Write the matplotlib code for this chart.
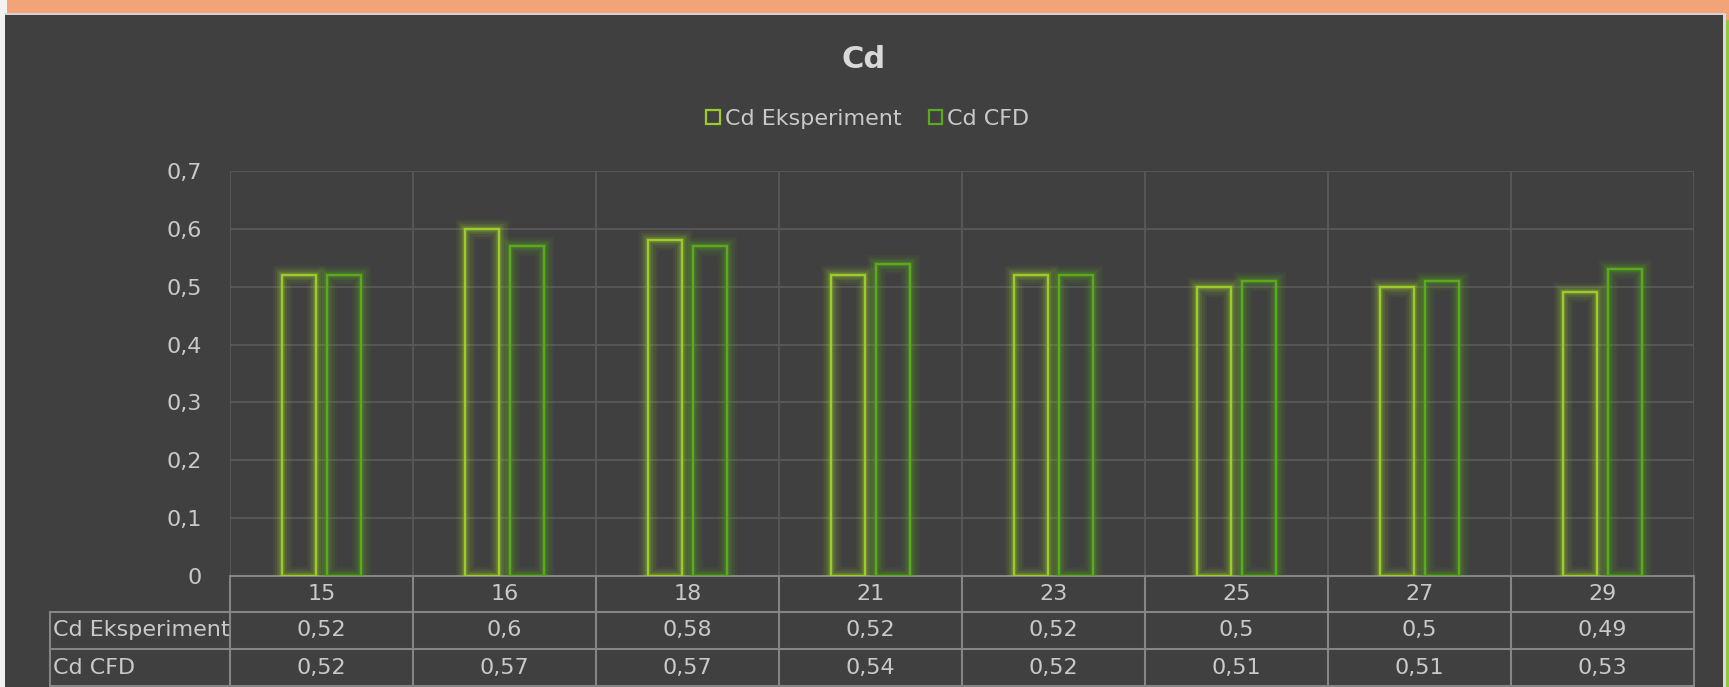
import matplotlib
matplotlib.use("Agg")
import matplotlib.pyplot as plt
import matplotlib.patheffects as pe
from matplotlib.patches import Rectangle, Patch
from matplotlib.lines import Line2D
from matplotlib.ticker import FuncFormatter, MultipleLocator
import numpy as np

# data
kategori = ["15", "16", "18", "21", "23", "25", "27", "29"]
cd_eksperiment = [0.52, 0.6, 0.58, 0.52, 0.52, 0.5, 0.5, 0.49]
cd_cfd = [0.52, 0.57, 0.57, 0.54, 0.52, 0.51, 0.51, 0.53]
serie_navn = ["Cd Eksperiment", "Cd CFD"]

W, H = 1729, 687
bg = "#404040"
grid_c = "#595959"
tab_c = "#858585"
txt_c = "#c9c9c9"
farge_eksp = "#9ccc2c"
farge_cfd = "#5aaa1e"

plt.rcParams["font.family"] = ["DejaVu Sans"]

fig = plt.figure(figsize=(W / 100, H / 100), dpi=100)
fig.patch.set_facecolor("#f2f2f2")


def px_rect(x0, y0, x1, y1, color):
    # rectangle given in pixel coords measured from the top left corner
    fig.add_artist(Rectangle((x0 / W, 1 - y1 / H), (x1 - x0) / W, (y1 - y0) / H,
                             transform=fig.transFigure, facecolor=color,
                             edgecolor="none", zorder=0))


px_rect(7, 0, W, 13, "#f2a478")
px_rect(1726, 13, W, 20, "#f2a478")
px_rect(5, 13, 1726, 15, "#d4d4d4")
px_rect(1723, 15, 1726, H, "#d9d9d9")
px_rect(1726, 20, W, H, "#92c83e")
px_rect(5, 15, 1723, H, bg)

# plot area
left, right, top, bottom = 230, 1694, 171, 576
ax = fig.add_axes([left / W, 1 - bottom / H, (right - left) / W, (bottom - top) / H])
ax.set_facecolor("none")
ax.set_zorder(2)

n = len(kategori)
x = np.arange(n)
bw = 0.185
off = 0.125


def glow(c):
    # soft halo: several wide strokes with low alpha under the outline
    return [pe.Stroke(linewidth=14, foreground=c, alpha=0.06),
            pe.Stroke(linewidth=10.5, foreground=c, alpha=0.09),
            pe.Stroke(linewidth=7, foreground=c, alpha=0.14),
            pe.Stroke(linewidth=4, foreground=c, alpha=0.22),
            pe.Normal()]


b1 = ax.bar(x - off, cd_eksperiment, bw, fill=False, edgecolor=farge_eksp, linewidth=1.7, zorder=3)
b2 = ax.bar(x + off, cd_cfd, bw, fill=False, edgecolor=farge_cfd, linewidth=1.7, zorder=3)
for b in b1:
    b.set_path_effects(glow(farge_eksp))
for b in b2:
    b.set_path_effects(glow(farge_cfd))

ax.set_xlim(-0.5, n - 0.5)
ax.set_ylim(0, 0.7)
ax.yaxis.set_major_locator(MultipleLocator(0.1))
ax.yaxis.set_major_formatter(FuncFormatter(lambda v, p: "0" if v == 0 else f"{v:.1f}".replace(".", ",")))
ax.set_xticks([])
ax.tick_params(axis="y", length=0, pad=20, labelsize=16, labelcolor=txt_c)
for s in ax.spines.values():
    s.set_visible(False)

# grid: horizontal at every tick, vertical between categories
for v in np.arange(0.1, 0.71, 0.1):
    ax.axhline(v, color=grid_c, linewidth=1.3, zorder=1)
for k in range(n + 1):
    ax.axvline(k - 0.5, color=grid_c, linewidth=1.3, zorder=1)

# data table below the axis
ah = bottom - top
row_y = [0, -36 / ah, -73 / ah, -110 / ah]
lab_x = (50 - left) / (right - left)
tr = ax.get_xaxis_transform()
ta = ax.transAxes

lw_t = 1.5
ax.add_line(Line2D([0, 1], [row_y[0]] * 2, transform=ta, color=tab_c, lw=lw_t, clip_on=False))
for r in row_y[1:]:
    ax.add_line(Line2D([lab_x, 1], [r] * 2, transform=ta, color=tab_c, lw=lw_t, clip_on=False))
ax.add_line(Line2D([lab_x, lab_x], [row_y[1], row_y[3]], transform=ta, color=tab_c, lw=lw_t, clip_on=False))
for k in range(n + 1):
    ax.add_line(Line2D([k - 0.5] * 2, [row_y[0], row_y[3]], transform=tr, color=tab_c, lw=lw_t, clip_on=False))

fmt = lambda v: f"{v:g}".replace(".", ",")
rader = [kategori, [fmt(v) for v in cd_eksperiment], [fmt(v) for v in cd_cfd]]
for ri, rad in enumerate(rader):
    yc = (row_y[ri] + row_y[ri + 1]) / 2
    for i, t in enumerate(rad):
        ax.text(i, yc, t, transform=tr, ha="center", va="center", fontsize=16, color=txt_c)
for ri, navn in enumerate(serie_navn):
    yc = (row_y[ri + 1] + row_y[ri + 2]) / 2
    ax.text(lab_x + 0.002, yc, navn, transform=ta, ha="left", va="center", fontsize=16, color=txt_c)

# title and legend
fig.text(864 / W, 1 - 59 / H, "Cd", ha="center", va="center", fontsize=22,
         fontweight="bold", color="#d9d9d9")
handles = [Patch(facecolor="none", edgecolor=farge_eksp, linewidth=1.6),
           Patch(facecolor="none", edgecolor=farge_cfd, linewidth=1.6)]
fig.legend(handles, serie_navn, loc="center", bbox_to_anchor=(868 / W, 1 - 119 / H), ncol=2,
           frameon=False, fontsize=16, labelcolor=txt_c, handlelength=0.6, handleheight=0.6,
           handletextpad=0.25, columnspacing=1.2)

fig.savefig("out.png", dpi=100, facecolor=fig.get_facecolor())
